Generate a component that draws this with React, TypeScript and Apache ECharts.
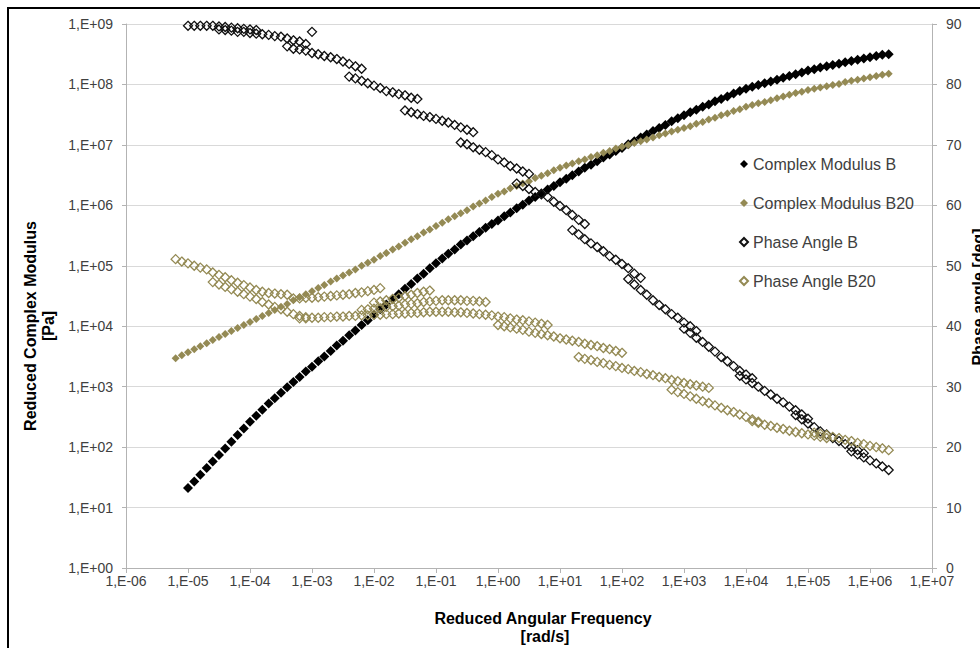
import React, { useEffect, useRef } from 'react';
import * as echarts from 'echarts';

// Reduced angular frequency grid [rad/s] (1/10 decade steps from 6.31E-06 to 2.00E+06)
const FREQ: number[] = [
  6.31e-6, 7.94e-6,
  1.00e-5, 1.26e-5, 1.58e-5, 2.00e-5, 2.51e-5, 3.16e-5, 3.98e-5, 5.01e-5, 6.31e-5, 7.94e-5,
  1.00e-4, 1.26e-4, 1.58e-4, 2.00e-4, 2.51e-4, 3.16e-4, 3.98e-4, 5.01e-4, 6.31e-4, 7.94e-4,
  1.00e-3, 1.26e-3, 1.58e-3, 2.00e-3, 2.51e-3, 3.16e-3, 3.98e-3, 5.01e-3, 6.31e-3, 7.94e-3,
  1.00e-2, 1.26e-2, 1.58e-2, 2.00e-2, 2.51e-2, 3.16e-2, 3.98e-2, 5.01e-2, 6.31e-2, 7.94e-2,
  1.00e-1, 1.26e-1, 1.58e-1, 2.00e-1, 2.51e-1, 3.16e-1, 3.98e-1, 5.01e-1, 6.31e-1, 7.94e-1,
  1.00e0, 1.26e0, 1.58e0, 2.00e0, 2.51e0, 3.16e0, 3.98e0, 5.01e0, 6.31e0, 7.94e0,
  1.00e1, 1.26e1, 1.58e1, 2.00e1, 2.51e1, 3.16e1, 3.98e1, 5.01e1, 6.31e1, 7.94e1,
  1.00e2, 1.26e2, 1.58e2, 2.00e2, 2.51e2, 3.16e2, 3.98e2, 5.01e2, 6.31e2, 7.94e2,
  1.00e3, 1.26e3, 1.58e3, 2.00e3, 2.51e3, 3.16e3, 3.98e3, 5.01e3, 6.31e3, 7.94e3,
  1.00e4, 1.26e4, 1.58e4, 2.00e4, 2.51e4, 3.16e4, 3.98e4, 5.01e4, 6.31e4, 7.94e4,
  1.00e5, 1.26e5, 1.58e5, 2.00e5, 2.51e5, 3.16e5, 3.98e5, 5.01e5, 6.31e5, 7.94e5,
  1.00e6, 1.26e6, 1.58e6, 2.00e6,
];

// Complex modulus B [Pa] on the FREQ grid
const MOD_B: (number | null)[] = [
  null, null,
  2.1e1, 2.7e1, 3.5e1, 4.5e1, 5.8e1, 7.4e1, 9.5e1, 1.23e2, 1.58e2, 2.04e2,
  2.63e2, 3.31e2, 4.17e2, 5.25e2, 6.46e2, 7.94e2, 9.77e2, 1.20e3, 1.45e3, 1.78e3,
  2.14e3, 2.63e3, 3.16e3, 3.89e3, 4.79e3, 5.75e3, 7.08e3, 8.51e3, 1.05e4, 1.26e4,
  1.55e4, 1.91e4, 2.29e4, 2.82e4, 3.39e4, 4.17e4, 5.01e4, 6.17e4, 7.41e4, 9.12e4,
  1.10e5, 1.32e5, 1.58e5, 1.86e5, 2.24e5, 2.63e5, 3.09e5, 3.63e5, 4.27e5, 4.90e5,
  5.62e5, 6.61e5, 7.59e5, 8.91e5, 1.02e6, 1.20e6, 1.38e6, 1.58e6, 1.82e6, 2.09e6,
  2.40e6, 2.75e6, 3.16e6, 3.63e6, 4.17e6, 4.68e6, 5.37e6, 6.17e6, 6.92e6, 7.94e6,
  8.91e6, 1.02e7, 1.15e7, 1.32e7, 1.48e7, 1.70e7, 1.91e7, 2.14e7, 2.45e7, 2.75e7,
  3.09e7, 3.47e7, 3.80e7, 4.27e7, 4.68e7, 5.25e7, 5.75e7, 6.31e7, 7.08e7, 7.76e7,
  8.51e7, 9.12e7, 9.77e7, 1.05e8, 1.12e8, 1.20e8, 1.29e8, 1.38e8, 1.48e8, 1.58e8,
  1.70e8, 1.78e8, 1.91e8, 2.00e8, 2.09e8, 2.19e8, 2.34e8, 2.45e8, 2.57e8, 2.69e8,
  2.82e8, 2.95e8, 3.09e8, 3.16e8,
];

// Complex modulus B20 [Pa] on the FREQ grid
const MOD_B20: (number | null)[] = [
  2.95e3, 3.31e3,
  3.72e3, 4.17e3, 4.68e3, 5.25e3, 5.89e3, 6.61e3, 7.41e3, 8.32e3, 9.33e3, 1.05e4,
  1.17e4, 1.32e4, 1.48e4, 1.66e4, 1.86e4, 2.09e4, 2.34e4, 2.69e4, 3.02e4, 3.39e4,
  3.80e4, 4.27e4, 4.79e4, 5.50e4, 6.17e4, 6.92e4, 7.76e4, 8.71e4, 1.00e5, 1.12e5,
  1.26e5, 1.45e5, 1.62e5, 1.86e5, 2.09e5, 2.40e5, 2.75e5, 3.09e5, 3.55e5, 3.98e5,
  4.57e5, 5.13e5, 5.89e5, 6.61e5, 7.41e5, 8.32e5, 9.55e5, 1.07e6, 1.20e6, 1.38e6,
  1.55e6, 1.70e6, 1.91e6, 2.09e6, 2.29e6, 2.51e6, 2.82e6, 3.09e6, 3.39e6, 3.80e6,
  4.17e6, 4.57e6, 4.90e6, 5.37e6, 5.75e6, 6.31e6, 6.76e6, 7.41e6, 7.94e6, 8.71e6,
  9.33e6, 1.00e7, 1.07e7, 1.15e7, 1.23e7, 1.32e7, 1.45e7, 1.55e7, 1.66e7, 1.78e7,
  1.91e7, 2.04e7, 2.24e7, 2.40e7, 2.63e7, 2.82e7, 3.09e7, 3.31e7, 3.63e7, 3.89e7,
  4.27e7, 4.57e7, 4.90e7, 5.13e7, 5.50e7, 5.89e7, 6.31e7, 6.76e7, 7.24e7, 7.59e7,
  8.13e7, 8.51e7, 8.91e7, 9.33e7, 9.77e7, 1.02e8, 1.10e8, 1.15e8, 1.20e8, 1.26e8,
  1.32e8, 1.38e8, 1.45e8, 1.51e8,
];

// Phase angle B [deg]: temperature segments, each starting at FREQ[from]
const PHASE_B: { from: number; deg: number[] }[] = [
  { from: 2, deg: [89.7, 89.7, 89.7, 89.7, 89.7, 89.6, 89.5, 89.4, 89.3, 89.2, 89.1, 89.0] },
  { from: 7, deg: [89.1, 89.0, 88.9, 88.7, 88.7, 88.5, 88.4, 88.3, 88.2, 88.0, 87.9, 87.6, 87.3, 87.1, 86.7] },
  { from: 18, deg: [86.3, 85.9, 85.8, 85.6, 85.2, 85.0, 84.7, 84.5, 84.2, 83.8, 83.4, 83.0, 82.6] },
  { from: 22, deg: [88.7] },
  { from: 28, deg: [81.3, 81.0, 80.6, 80.2, 79.8, 79.4, 78.9, 78.7, 78.4, 78.2, 77.8, 77.6] },
  { from: 37, deg: [75.7, 75.4, 75.1, 74.8, 74.6, 74.3, 74.0, 73.7, 73.3, 72.9, 72.5, 72.1] },
  { from: 46, deg: [70.4, 70.1, 69.6, 69.2, 68.8, 68.3, 67.6, 67.1, 66.5, 66.1, 65.6, 65.2] },
  { from: 55, deg: [63.6, 63.2, 62.7, 62.2, 61.8, 61.4, 60.6, 59.9, 59.2, 58.4, 57.6, 56.9] },
  { from: 64, deg: [55.9, 55.2, 54.4, 53.7, 53.1, 52.4, 51.6, 51.0, 50.3, 49.6, 48.7, 48.0] },
  { from: 73, deg: [47.8, 46.9, 46.0, 45.2, 44.3, 43.5, 42.8, 42.0, 41.4, 40.6, 40.0, 39.2] },
  { from: 82, deg: [39.6, 38.9, 38.1, 37.4, 36.6, 35.8, 34.9, 34.2, 33.4, 32.6, 32.0, 31.4] },
  { from: 91, deg: [31.8, 31.2, 30.6, 30.0, 29.3, 28.7, 28.0, 27.4, 26.7, 26.1, 25.4, 24.7] },
  { from: 100, deg: [25.3, 24.6, 23.9, 23.3, 22.6, 22.1, 21.5, 21.0, 20.5, 20.0, 19.5, 19.0] },
  { from: 109, deg: [19.3, 18.8, 18.3, 17.8, 17.3, 16.8, 16.2] },
];

// Phase angle B20 [deg]
const PHASE_B20: { from: number; deg: number[] }[] = [
  { from: 0, deg: [51.1, 50.7, 50.4, 50.0, 49.7, 49.4, 48.9, 48.5, 48.1, 47.6, 47.2, 46.8, 46.4, 46.0, 45.7, 45.5, 45.4, 45.3, 45.2] },
  { from: 6, deg: [47.3, 46.9, 46.5, 46.1, 45.7, 45.3, 44.9, 44.5, 44.0, 43.6, 43.2, 42.8, 42.4, 42.0, 41.7, 41.5] },
  { from: 19, deg: [44.6, 44.6, 44.7, 44.7, 44.8, 44.9, 45.0, 45.1, 45.2, 45.3, 45.5, 45.6, 45.8, 46.0, 46.3] },
  { from: 20, deg: [41.3, 41.3, 41.4, 41.4, 41.5, 41.5, 41.6, 41.6, 41.7, 41.7, 41.8, 41.8, 41.9, 41.9, 42.0, 42.0, 42.1, 42.1, 42.2, 42.2, 42.3, 42.4] },
  { from: 32, deg: [43.9, 44.1, 44.3, 44.5, 44.7, 45.0, 45.2, 45.5, 45.7, 45.9] },
  { from: 30, deg: [42.7, 42.8, 42.9, 43.0, 43.2, 43.3, 43.4, 43.6, 43.7, 43.8, 44.0, 44.1, 44.2, 44.3, 44.3, 44.3, 44.3, 44.2, 44.2, 44.1, 44.0] },
  { from: 42, deg: [42.4, 42.4, 42.4, 42.3, 42.3, 42.2, 42.1, 42.0, 41.9, 41.8, 41.6, 41.5, 41.3, 41.1, 41.0, 40.8, 40.6, 40.4, 40.2] },
  { from: 52, deg: [40.2, 40.0, 39.8, 39.6, 39.4, 39.1, 38.9, 38.7, 38.5, 38.3, 38.0, 37.8, 37.6, 37.4, 37.1, 36.9, 36.7, 36.4, 36.2, 35.9, 35.6] },
  { from: 65, deg: [34.9, 34.6, 34.4, 34.1, 33.9, 33.6, 33.4, 33.1, 32.9, 32.6, 32.4, 32.1, 31.9, 31.6, 31.4, 31.1, 30.9, 30.6, 30.4, 30.2, 30.0, 29.8] },
  { from: 80, deg: [29.5, 29.1, 28.8, 28.4, 28.0, 27.6, 27.3, 26.9, 26.5, 26.1, 25.8, 25.4, 25.0, 24.6, 24.2] },
  { from: 93, deg: [24.3, 24.0, 23.7, 23.5, 23.2, 23.0, 22.7, 22.5, 22.3, 22.1, 21.9, 21.7, 21.5] },
  { from: 103, deg: [22.4, 22.2, 22.0, 21.7, 21.5, 21.2, 21.0, 20.7, 20.5, 20.2, 20.0, 19.8, 19.5] },
];

const SERIES_NAMES = ['Complex Modulus B', 'Complex Modulus B20', 'Phase Angle B', 'Phase Angle B20'];
const X_TITLE = ['Reduced Angular Frequency', '[rad/s]'];
const Y_TITLE = ['Reduced Complex Modulus', '[Pa]'];
const Y2_TITLE = 'Phase angle [deg]';

const TAN = '#948A54';
const FONT = '"Liberation Sans", Arial, sans-serif';

const gridPairs = (vals: (number | null)[]) =>
  vals.map((v, i) => (v == null ? null : [FREQ[i], v])).filter((p) => p !== null) as number[][];
const segPairs = (segs: { from: number; deg: number[] }[]) =>
  segs.flatMap((s) => s.deg.map((d, i) => [FREQ[s.from + i], d]));

const expLabel = (v: number) => {
  const e = Math.round(Math.log10(v));
  const a = Math.abs(e);
  return '1,E' + (e < 0 ? '-' : '+') + (a < 10 ? '0' : '') + a;
};

export default function App() {
  const ref = useRef<HTMLDivElement>(null);
  useEffect(() => {
    if (!ref.current) return;
    const chart = echarts.init(ref.current, undefined, { renderer: 'svg' });
    const axisLineStyle = { color: '#b3b3b3', width: 1 };
    const labelStyle = { color: '#404040', fontSize: 14, fontFamily: FONT };
    chart.setOption({
      animation: false,
      backgroundColor: '#fff',
      grid: { left: 126, right: 48, top: 24, bottom: 80, containLabel: false },
      xAxis: {
        type: 'log',
        logBase: 10,
        min: 1e-6,
        max: 1e7,
        interval: 1,
        axisLine: { show: true, lineStyle: axisLineStyle },
        axisTick: { show: true, inside: false, length: 5, lineStyle: axisLineStyle },
        axisLabel: { ...labelStyle, margin: 6, formatter: (v: number) => expLabel(v) },
        splitLine: { show: false },
        minorTick: { show: false },
      },
      yAxis: [
        {
          type: 'log',
          logBase: 10,
          min: 1,
          max: 1e9,
          interval: 1,
          axisLine: { show: true, lineStyle: axisLineStyle },
          axisTick: { show: true, inside: false, length: 4, lineStyle: axisLineStyle },
          axisLabel: { ...labelStyle, margin: 13, formatter: (v: number) => expLabel(v) },
          splitLine: { show: true, lineStyle: { color: '#d9d9d9', width: 1 } },
        },
        {
          type: 'value',
          position: 'right',
          min: 0,
          max: 90,
          interval: 10,
          axisLine: { show: true, lineStyle: axisLineStyle },
          axisTick: { show: true, inside: false, length: 5, lineStyle: axisLineStyle },
          axisLabel: { ...labelStyle, margin: 14 },
          splitLine: { show: false },
        },
      ],
      legend: {
        orient: 'vertical',
        left: 734,
        top: 150,
        itemWidth: 8,
        itemHeight: 8,
        itemGap: 21,
        textStyle: { color: '#404040', fontSize: 16, fontFamily: FONT, lineHeight: 18 },
        data: SERIES_NAMES,
      },
      series: [
        {
          name: SERIES_NAMES[0],
          type: 'scatter',
          yAxisIndex: 0,
          symbol: 'diamond',
          symbolSize: 10,
          itemStyle: { color: '#000', opacity: 1 },
          data: gridPairs(MOD_B),
        },
        {
          name: SERIES_NAMES[1],
          type: 'scatter',
          yAxisIndex: 0,
          symbol: 'diamond',
          symbolSize: 8,
          itemStyle: { color: TAN, opacity: 1 },
          data: gridPairs(MOD_B20),
        },
        {
          name: SERIES_NAMES[2],
          type: 'scatter',
          yAxisIndex: 1,
          symbol: 'diamond',
          symbolSize: 9,
          itemStyle: { color: 'rgba(255,255,255,0)', borderColor: '#111', borderWidth: 1.3, opacity: 1 },
          data: segPairs(PHASE_B),
        },
        {
          name: SERIES_NAMES[3],
          type: 'scatter',
          yAxisIndex: 1,
          symbol: 'diamond',
          symbolSize: 9,
          itemStyle: { color: 'rgba(255,255,255,0)', borderColor: TAN, borderWidth: 1.3, opacity: 1 },
          data: segPairs(PHASE_B20),
        },
      ],
      graphic: [
        {
          type: 'rect',
          shape: { x: 8, y: 8, width: 1000, height: 700 },
          style: { fill: 'none', stroke: '#000', lineWidth: 2 },
          silent: true,
        },
        {
          type: 'text', x: 543, y: 618,
          style: { text: X_TITLE[0], font: 'bold 16px ' + FONT, fill: '#000', align: 'center', verticalAlign: 'middle' },
        },
        {
          type: 'text', x: 545, y: 636,
          style: { text: X_TITLE[1], font: 'bold 16px ' + FONT, fill: '#000', align: 'center', verticalAlign: 'middle' },
        },
        {
          type: 'text', x: 30, y: 326, rotation: Math.PI / 2,
          style: { text: Y_TITLE[0], font: 'bold 16px ' + FONT, fill: '#000', align: 'center', verticalAlign: 'middle' },
        },
        {
          type: 'text', x: 48, y: 326, rotation: Math.PI / 2,
          style: { text: Y_TITLE[1], font: 'bold 16px ' + FONT, fill: '#000', align: 'center', verticalAlign: 'middle' },
        },
        {
          type: 'text', x: 978, y: 297, rotation: Math.PI / 2,
          style: { text: Y2_TITLE, font: 'bold 16px ' + FONT, fill: '#000', align: 'center', verticalAlign: 'middle' },
        },
      ],
    });
    return () => chart.dispose();
  }, []);
  return (
    <div
      ref={ref}
      style={{ position: 'fixed', left: 0, top: 0, width: 980, height: 648, background: '#fff' }}
    />
  );
}
